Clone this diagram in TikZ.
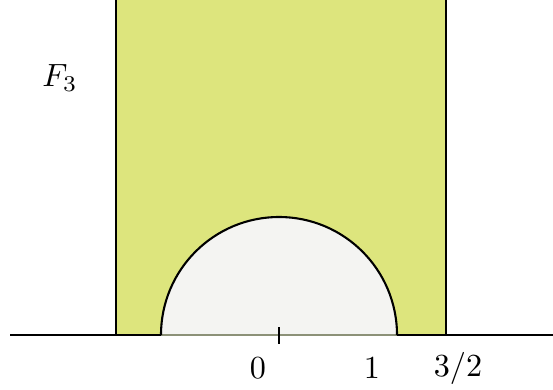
\documentclass[tikz,border=0pt]{standalone}
\usepackage{tikz}
\usetikzlibrary{positioning,calc}
\definecolor{Strip}{RGB}{221,229,125}
\definecolor{Disc}{RGB}{244,244,242}
\definecolor{Under}{RGB}{140,145,120}
\tikzset{
  axis/.style={line width=0.65pt, draw=black},
  edge/.style={line width=0.45pt, draw=black},
  arcline/.style={line width=0.65pt, draw=black},
  lbl/.style={inner sep=1pt, text=black}
}

\begin{document}
\begin{tikzpicture}[x=0.311pt, y=-0.311pt]
  \useasboundingbox (0,0) rectangle (553,389);
  % points on the real line
  \coordinate (axl) at (10,335);
  \coordinate (axr) at (553,335);
  \coordinate (o) at (279,335);
  \coordinate (sl) at (116,335);
  \coordinate (sr) at (446,335);
  % strip
  \fill[Strip] (116,0) rectangle (sr);
  \draw[edge] (116,0) -- (sl);
  \draw[edge] (446,0) -- (sr);
  % half disc
  \fill[Disc] ($(o)+(-118,0)$) arc[start angle=180, end angle=360, radius=118] -- cycle;
  \draw[axis] (axl) -- ($(o)+(-118,0)$);
  \draw[axis] ($(o)+(118,0)$) -- (axr);
  \draw[line width=0.4pt, Under] ($(o)+(-118,0)$) -- ($(o)+(118,0)$);
  \draw[arcline] ($(o)+(-118,0)$) arc[start angle=180, end angle=360, radius=118];
  \draw[axis] ($(o)+(0,-8)$) -- ($(o)+(0,9)$);
  % labels
  \node[lbl] (zero) at (258,368) {$0$};
  \node[lbl] (one) at (372,368) {$1$};
  \node[lbl] (thrh) at (458,368) {$3/2$};
  \node[lbl] (f3) at (60,78) {$F_3$};
\end{tikzpicture}
\end{document}
